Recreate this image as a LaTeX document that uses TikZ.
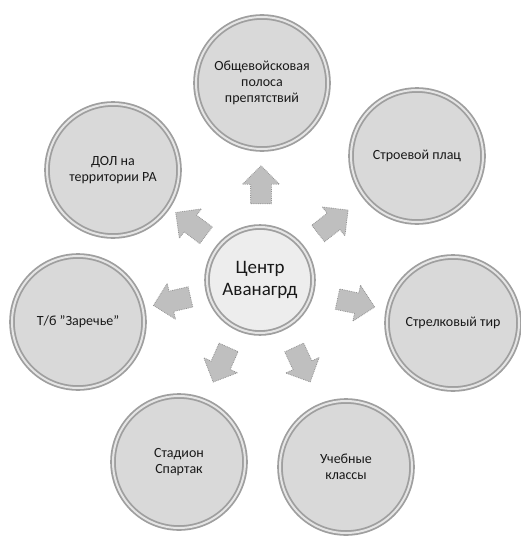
\documentclass[tikz,border=0pt]{standalone}
\usepackage{fontspec}
\setmainfont{Carlito}
\usetikzlibrary{shapes.arrows}
\tikzset{
  place/.style={circle, minimum size=132pt, inner sep=0pt, align=center,
    fill=gray!30, draw=gray!75, line width=1.8pt, double=gray!20, double distance=2pt,
    font=\fontsize{14}{16}\selectfont, text=black!90},
  hub/.style={place, minimum size=106pt, fill=gray!14,
    font=\fontsize{19}{22}\selectfont},
  way/.style={single arrow, minimum height=38pt, inner sep=10pt,
    single arrow head extend=8pt, single arrow head indent=0pt,
    fill=gray!50, draw=gray!85, densely dotted, line width=0.8pt}
}
\begin{document}
\begin{tikzpicture}[x=1pt, y=-1pt]
      \useasboundingbox (0,0) rectangle (521,546);
      \draw
        (262,83) node[place] (polosa){Общевойсковая\\полоса\\препятствий}
        (113,170) node[place] (dol){ДОЛ на\\территории РА}
        (417,156) node[place] (plats){Строевой плац}
        (78,322) node[place] (zarech){Т/б "Заречье"}
        (453,323) node[place] (tir){Стрелковый тир}
        (179,462) node[place] (stadion){Стадион\\Спартак}
        (346,467) node[place] (klassy){Учебные\\классы}
        (260,280) node[hub] (centr){Центр\\Аванагрд};
      \begin{scope}[every node/.style=way]
        \node[rotate=90] (a1) at (261,190) {};
        \node[rotate=143] (a2) at (195,227) {};
        \node[rotate=38] (a3) at (329,225) {};
        \node[rotate=193] (a4) at (177,300) {};
        \node[rotate=-12] (a5) at (351,302) {};
        \node[rotate=246] (a6) at (223,360) {};
        \node[rotate=-65] (a7) at (300,360) {};
      \end{scope}
    \end{tikzpicture}
\end{document}
